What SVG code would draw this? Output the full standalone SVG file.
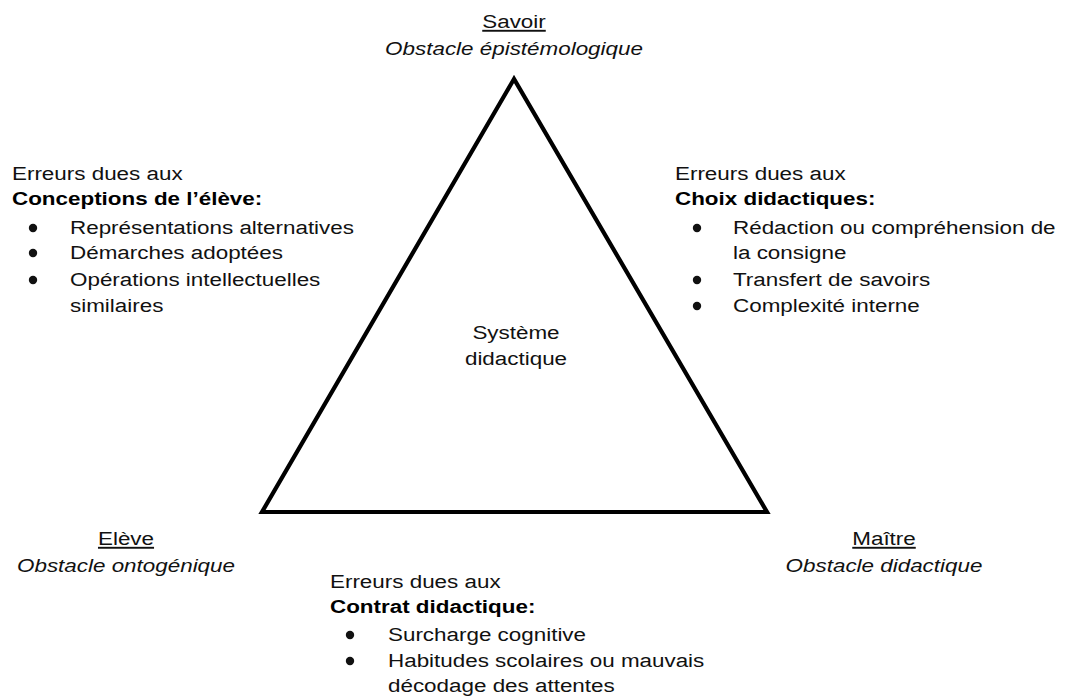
<svg xmlns="http://www.w3.org/2000/svg" width="1069" height="698" viewBox="0 0 1069 698">
<style>
.t{font-family:"Liberation Sans",Arial,sans-serif;font-size:19px;fill:#111}
.b{font-weight:bold;fill:#000}
.i{font-style:italic}
.c{text-anchor:middle}
.u{text-decoration:underline}
.dot{fill:#111}
.tri{fill:none;stroke:#000;stroke-width:4.2;stroke-linejoin:miter}
</style>
<rect width="1069" height="698" fill="#fff"/>
<g id="connectors">
<polygon class="tri" points="514,79 262,512 767,512"/>
</g>
<g id="savoir">
<text class="t c u" transform="translate(514,28) scale(1.18,1)">Savoir</text>
<text class="t c i" transform="translate(514,55) scale(1.18,1)">Obstacle épistémologique</text>
</g>
<g id="eleve">
<text class="t c u" transform="translate(126,545) scale(1.18,1)">Elève</text>
<text class="t c i" transform="translate(126,572) scale(1.18,1)">Obstacle ontogénique</text>
</g>
<g id="maitre">
<text class="t c u" transform="translate(884,545) scale(1.18,1)">Maître</text>
<text class="t c i" transform="translate(884,572) scale(1.18,1)">Obstacle didactique</text>
</g>
<g id="systeme">
<text class="t c" transform="translate(516,339) scale(1.18,1)">Système</text>
<text class="t c" transform="translate(516,365) scale(1.18,1)">didactique</text>
</g>
<g id="conceptions">
<text class="t" transform="translate(12,180) scale(1.18,1)">Erreurs dues aux</text>
<text class="t b" transform="translate(12,205) scale(1.18,1)">Conceptions de l’élève:</text>
<circle class="dot" cx="33" cy="228" r="4.2"/>
<text class="t" transform="translate(70,234) scale(1.18,1)">Représentations alternatives</text>
<circle class="dot" cx="33" cy="253" r="4.2"/>
<text class="t" transform="translate(70,259) scale(1.18,1)">Démarches adoptées</text>
<circle class="dot" cx="33" cy="280" r="4.2"/>
<text class="t" transform="translate(70,286) scale(1.18,1)">Opérations intellectuelles</text>
<text class="t" transform="translate(70,312) scale(1.18,1)">similaires</text>
</g>
<g id="choix">
<text class="t" transform="translate(675,180) scale(1.18,1)">Erreurs dues aux</text>
<text class="t b" transform="translate(675,205) scale(1.18,1)">Choix didactiques:</text>
<circle class="dot" cx="697" cy="228" r="4.2"/>
<text class="t" transform="translate(733,234) scale(1.18,1)">Rédaction ou compréhension de</text>
<text class="t" transform="translate(733,259) scale(1.18,1)">la consigne</text>
<circle class="dot" cx="697" cy="280" r="4.2"/>
<text class="t" transform="translate(733,286) scale(1.18,1)">Transfert de savoirs</text>
<circle class="dot" cx="697" cy="306" r="4.2"/>
<text class="t" transform="translate(733,312) scale(1.18,1)">Complexité interne</text>
</g>
<g id="contrat">
<text class="t" transform="translate(330,588) scale(1.18,1)">Erreurs dues aux</text>
<text class="t b" transform="translate(330,613) scale(1.18,1)">Contrat didactique:</text>
<circle class="dot" cx="350" cy="635" r="4.2"/>
<text class="t" transform="translate(388,641) scale(1.18,1)">Surcharge cognitive</text>
<circle class="dot" cx="350" cy="661" r="4.2"/>
<text class="t" transform="translate(388,667) scale(1.18,1)">Habitudes scolaires ou mauvais</text>
<text class="t" transform="translate(388,692) scale(1.18,1)">décodage des attentes</text>
</g>
</svg>
